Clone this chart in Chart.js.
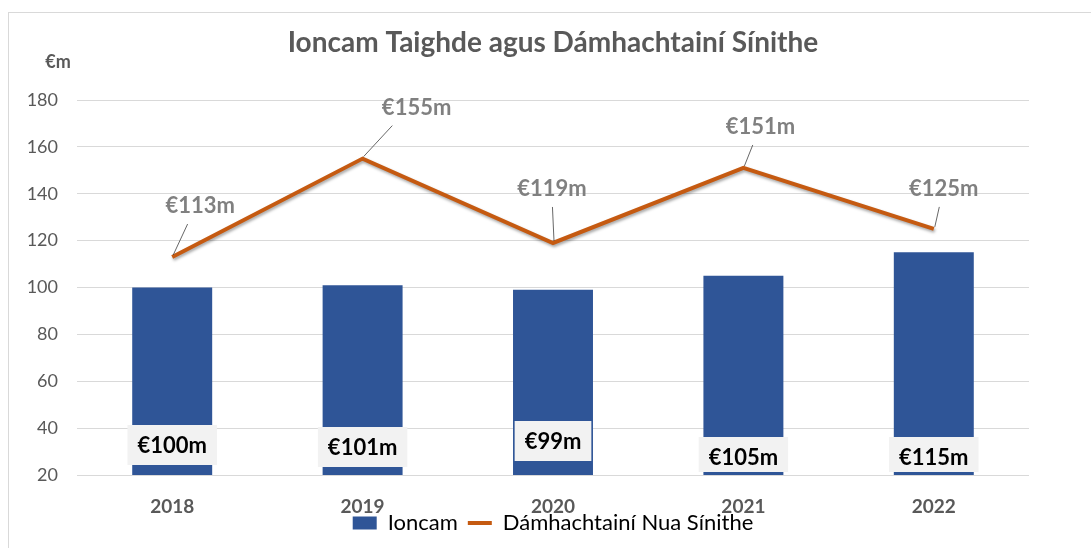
<!DOCTYPE html>
<html>
<head>
<meta charset="utf-8">
<script src="https://cdn.jsdelivr.net/npm/chart.js@4/dist/chart.umd.min.js"></script>
<style>
  html, body { margin: 0; padding: 0; background: #ffffff; }
  #wrap { position: relative; width: 1091px; height: 548px; }
  #frame { position: absolute; left: 8px; top: 12px; right: 0; bottom: 0;
           border-top: 1px solid #d9d9d9; border-left: 1px solid #d9d9d9; pointer-events: none; }
  canvas { position: absolute; left: 0; top: 0; }
</style>
</head>
<body>
<div id="wrap">
  <canvas id="c" width="1091" height="548"></canvas>
  <div id="frame"></div>
</div>
<script>
const categories = ['2018', '2019', '2020', '2021', '2022'];
const ioncamValues = [100, 101, 99, 105, 115];
const damhachtainiValues = [113, 155, 119, 151, 125];
const yTicks = [20, 40, 60, 80, 100, 120, 140, 160, 180];
const seriesNames = ['Ioncam', 'Dámhachtainí Nua Sínithe'];
const chartTitle = 'Ioncam Taighde agus Dámhachtainí Sínithe';
const unitLabel = '€m';

const FONT = 'Lato, "Open Sans", sans-serif';
const BLUE = '#2f5597';
const ORANGE = '#c55a11';
const GREY = '#595959';

const fmt = v => '€' + v + 'm';

// style-only nudges for label placement
const barLabelNudge = [-30, -28, -34, -18, -18];
const lineLabelOffset = [[28, -51], [54, -51], [-1, -54], [17, -41], [10, -40]];

const labelsPlugin = {
  id: 'customLabels',
  beforeDatasetDraw(chart, args) {
    if (args.index === 1) {
      const ctx = chart.ctx;
      ctx.save();
      ctx.shadowColor = 'rgba(0,0,0,0.35)';
      ctx.shadowBlur = 3;
      ctx.shadowOffsetX = 1;
      ctx.shadowOffsetY = 2;
    }
  },
  afterDatasetDraw(chart, args) {
    if (args.index === 1) chart.ctx.restore();
  },
  afterDatasetsDraw(chart) {
    const ctx = chart.ctx;
    const yScale = chart.scales.y;
    // bar labels
    const barMeta = chart.getDatasetMeta(0);
    ctx.save();
    ctx.font = 'bold 22px ' + FONT;
    ctx.textAlign = 'center';
    ctx.textBaseline = 'middle';
    barMeta.data.forEach((bar, i) => {
      const txt = fmt(chart.data.datasets[0].data[i]);
      const w = ctx.measureText(txt).width + 20;
      const h = 40;
      const cy = yScale.bottom + barLabelNudge[i];
      const top = cy - h / 2;
      const bottom = Math.min(cy + h / 2, yScale.bottom - 3);
      ctx.fillStyle = '#f2f2f2';
      ctx.fillRect(bar.x - w / 2, top, w, bottom - top);
      ctx.fillStyle = '#000000';
      ctx.fillText(txt, bar.x, cy + 1);
    });
    ctx.restore();

    // line labels
    const lineMeta = chart.getDatasetMeta(1);
    ctx.save();
    ctx.font = 'bold 22px ' + FONT;
    ctx.textAlign = 'center';
    ctx.textBaseline = 'middle';
    lineMeta.data.forEach((pt, i) => {
      const [dx, dy] = lineLabelOffset[i];
      const lx = pt.x + dx, ly = pt.y + dy;
      ctx.strokeStyle = '#404040';
      ctx.lineWidth = 0.8;
      ctx.beginPath();
      ctx.moveTo(pt.x + 1, pt.y - 2);
      ctx.lineTo(pt.x + dx * 0.55, ly + 18);
      ctx.stroke();
      ctx.fillStyle = '#808080';
      ctx.fillText(fmt(chart.data.datasets[1].data[i]), lx, ly);
    });
    ctx.restore();

    // unit label
    ctx.save();
    ctx.font = 'bold 18px ' + FONT;
    ctx.fillStyle = GREY;
    ctx.textAlign = 'center';
    ctx.textBaseline = 'middle';
    ctx.fillText(unitLabel, 58, 62);
    ctx.restore();
  }
};

new Chart(document.getElementById('c'), {
  data: {
    labels: categories,
    datasets: [
      {
        type: 'bar',
        label: seriesNames[0],
        data: ioncamValues,
        backgroundColor: BLUE,
        categoryPercentage: 1,
        barPercentage: 0.42,
        order: 2
      },
      {
        type: 'line',
        label: seriesNames[1],
        data: damhachtainiValues,
        borderColor: ORANGE,
        backgroundColor: ORANGE,
        borderWidth: 4,
        pointRadius: 0,
        tension: 0,
        order: 1
      }
    ]
  },
  options: {
    responsive: false,
    animation: false,
    layout: { padding: { left: 8, right: 62, top: 16, bottom: 4 } },
    scales: {
      x: {
        grid: { display: false, drawTicks: false },
        border: { display: false },
        ticks: { color: GREY, font: { family: FONT, size: 19, weight: 'bold' }, padding: 20 },
        afterFit(s) { s.height = 27; s._computeLabelArea = () => undefined; }
      },
      y: {
        min: 20,
        max: 180,
        afterBuildTicks(s) { s.ticks = yTicks.map(v => ({ value: v })); },
        grid: { color: '#d9d9d9', lineWidth: 1, drawTicks: false },
        border: { display: false },
        ticks: { color: GREY, font: { family: FONT, size: 18 }, padding: 19 },
        afterFit(s) { s.width = 69; }
      }
    },
    plugins: {
      title: {
        display: true,
        text: chartTitle,
        fullSize: false,
        color: GREY,
        font: { family: FONT, size: 28, weight: 'bold' },
        padding: { top: 10, bottom: 40.4 }
      },
      legend: {
        position: 'bottom',
        fullSize: false,
        labels: {
          color: '#000000',
          font: { family: FONT, size: 22 },
          usePointStyle: true,
          pointStyleWidth: 24,
          boxHeight: 13,
          padding: 10,
          generateLabels(chart) {
            return chart.data.datasets.map((ds, i) => ({
              text: ds.label,
              datasetIndex: i,
              fillStyle: i === 0 ? BLUE : 'rgba(0,0,0,0)',
              strokeStyle: i === 0 ? BLUE : ORANGE,
              lineWidth: i === 0 ? 0 : 4,
              pointStyle: i === 0 ? 'rect' : 'line',
              fontColor: '#000000',
              hidden: false
            }));
          }
        }
      },
      tooltip: { enabled: false }
    }
  },
  plugins: [labelsPlugin]
});
</script>
</body>
</html>
